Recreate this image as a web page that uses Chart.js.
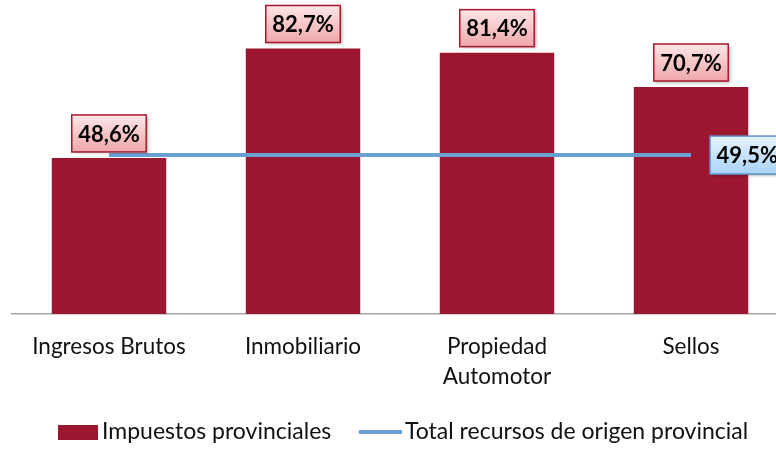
<!DOCTYPE html>
<html><head><meta charset="utf-8">
<script src="https://cdn.jsdelivr.net/npm/chart.js@4/dist/chart.umd.min.js"></script>
<style>
html,body{margin:0;padding:0;background:#fff;overflow:hidden;}
#wrap{width:776px;height:449px;overflow:hidden;position:relative;}
#c{position:absolute;left:0;top:0;}
</style></head>
<body><div id="wrap"><canvas id="c" width="800" height="449"></canvas></div>
<script>
const categories = [["Ingresos Brutos"], ["Inmobiliario"], ["Propiedad", "Automotor"], ["Sellos"]];
const impuestosProvinciales = [48.6, 82.7, 81.4, 70.7];
const totalRecursos = [49.5, 49.5, 49.5, 49.5];
const seriesNames = ["Impuestos provinciales", "Total recursos de origen provincial"];

const BAR = '#9C162F';
const LINE = '#6A9FD3';
const fmt = v => v.toFixed(1).replace('.', ',') + '%';

function box(ctx, x, y, w, h, top, bottom, border) {
  ctx.save();
  ctx.shadowColor = 'rgba(0,0,0,0.35)';
  ctx.shadowBlur = 3; ctx.shadowOffsetX = 1.5; ctx.shadowOffsetY = 1.5;
  const g = ctx.createLinearGradient(0, y, 0, y + h);
  g.addColorStop(0, top); g.addColorStop(1, bottom);
  ctx.fillStyle = g;
  ctx.fillRect(x, y, w, h);
  ctx.restore();
  ctx.save();
  ctx.strokeStyle = border; ctx.lineWidth = 1.5;
  ctx.strokeRect(x, y, w, h);
  ctx.restore();
}

const labelsPlugin = {
  id: 'labelsPlugin',
  afterDatasetsDraw(chart) {
    const ctx = chart.ctx;
    ctx.save();
    ctx.font = 'bold 22px Lato';
    ctx.textAlign = 'center'; ctx.textBaseline = 'middle';
    const bm = chart.getDatasetMeta(0);
    bm.data.forEach((el, i) => {
      const t = fmt(impuestosProvinciales[i]);
      const w = ctx.measureText(t).width + 13, h = 37;
      const x = el.x - w / 2, y = el.y - 6 - h;
      box(ctx, x, y, w, h, '#fde6e6', '#efa7aa', '#A8182F');
      ctx.fillStyle = '#000';
      ctx.fillText(t, el.x, y + h / 2 + 1);
    });
    const lm = chart.getDatasetMeta(1);
    const last = lm.data[lm.data.length - 1];
    const t = fmt(totalRecursos[totalRecursos.length - 1]);
    const w = ctx.measureText(t).width + 13, h = 38;
    const x = last.x + 19, y = last.y - h / 2;
    box(ctx, x, y, w, h, '#e6f3ff', '#a9d3f6', '#5B8FC7');
    ctx.fillStyle = '#000';
    ctx.fillText(t, x + w / 2, y + h / 2 + 1);
    ctx.restore();
  },
  afterDraw(chart) {
    const ctx = chart.ctx;
    ctx.save();
    ctx.fillStyle = BAR;
    ctx.fillRect(58, 425, 40, 15);
    ctx.strokeStyle = LINE; ctx.lineWidth = 4;
    ctx.beginPath(); ctx.moveTo(359, 432); ctx.lineTo(402, 432); ctx.stroke();
    ctx.fillStyle = '#111';
    ctx.font = '23px Lato';
    ctx.textAlign = 'left'; ctx.textBaseline = 'middle';
    ctx.fillText(seriesNames[0], 102, 432);
    ctx.fillText(seriesNames[1], 405, 432);
    ctx.restore();
  }
};

new Chart(document.getElementById('c'), {
  data: {
    labels: categories,
    datasets: [
      { type: 'bar', label: seriesNames[0], data: impuestosProvinciales, backgroundColor: BAR,
        barPercentage: 0.59, categoryPercentage: 1, order: 2 },
      { type: 'line', label: seriesNames[1], data: totalRecursos, borderColor: LINE, borderWidth: 4,
        pointRadius: 0, tension: 0, order: 1 }
    ]
  },
  options: {
    responsive: false, animation: false, devicePixelRatio: 1,
    layout: { padding: { left: 12, right: 12, top: 0, bottom: 0 } },
    plugins: { legend: { display: false }, tooltip: { enabled: false } },
    scales: {
      x: {
        grid: { display: false, drawTicks: false },
        border: { display: true, color: '#A6A6A6', width: 1.5 },
        ticks: { color: '#111', font: { family: 'Lato', size: 22.5, lineHeight: 1.34 }, padding: 18, maxRotation: 0, autoSkip: false },
        afterFit(s) { s.height = 135; }
      },
      y: { display: false, min: 0, max: 97.8 }
    }
  },
  plugins: [labelsPlugin]
});
</script></body></html>
